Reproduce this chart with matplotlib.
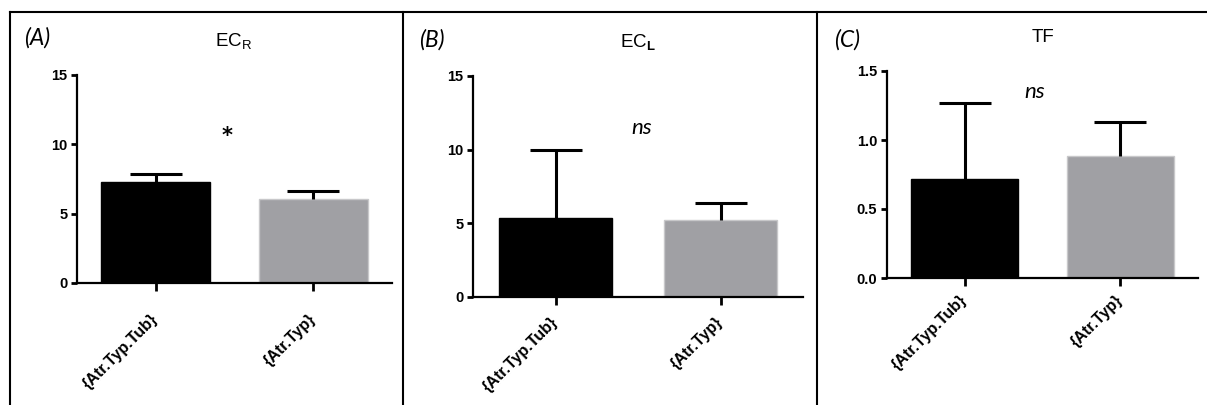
import matplotlib
matplotlib.use("Agg")
import matplotlib.pyplot as plt
from matplotlib.lines import Line2D
import numpy as np

plt.rcParams['font.family'] = ['Liberation Sans', 'DejaVu Sans']
plt.rcParams['mathtext.fontset'] = 'custom'
plt.rcParams['mathtext.rm'] = 'Liberation Sans'
plt.rcParams['mathtext.bf'] = 'Liberation Sans:bold'

# data
groups = ['{Atr.Typ.Tub}', '{Atr.Typ}']
ecr_mean = [7.25, 6.05]
ecr_sd = [0.60, 0.55]
ecl_mean = [5.38, 5.23]
ecl_sd = [4.57, 1.13]
tf_mean = [0.72, 0.885]
tf_sd = [0.545, 0.245]

bar_colors = ['#000000', '#a0a0a4']
edge_colors = ['#000000', '#c8c8ca']

W, H = 1207, 405
fig = plt.figure(figsize=(W / 100, H / 100), dpi=100)


def px(x0, y0, x1, y1):
    # pixel box -> figure fraction rect
    return [x0 / W, 1 - y1 / H, (x1 - x0) / W, (y1 - y0) / H]


panels = [
    dict(box=(77, 75, 392, 283), mean=ecr_mean, sd=ecr_sd, ylim=15, ticks=[0, 5, 10, 15],
         fmt='{:g}', letter='(A)', lpos=(24, 38), title=r'EC$_\mathregular{R}$', tpos=(234, 42),
         sig='*', spos=(0.45, 10.6), pad=18),
    dict(box=(473, 76, 803, 297), mean=ecl_mean, sd=ecl_sd, ylim=15, ticks=[0, 5, 10, 15],
         fmt='{:g}', letter='(B)', lpos=(419, 40), title=r'EC$_\mathbf{L}$', tpos=(638, 43),
         sig='ns', spos=(0.52, 11.5), pad=10),
    dict(box=(887, 71, 1198, 278), mean=tf_mean, sd=tf_sd, ylim=1.5, ticks=[0.0, 0.5, 1.0, 1.5],
         fmt='{:.1f}', letter='(C)', lpos=(834, 40), title='TF', tpos=(1043, 38),
         sig='ns', spos=(0.45, 1.35), pad=8),
]

for p in panels:
    ax = fig.add_axes(px(*p['box']))
    x = np.arange(len(groups))
    ax.bar(x, p['mean'], width=0.69, color=bar_colors, edgecolor=edge_colors,
           linewidth=1, zorder=2)
    eb = ax.errorbar(x, p['mean'], yerr=[np.zeros(len(x)), p['sd']], fmt='none',
                     ecolor='black', elinewidth=2.2, capsize=19, capthick=2.2, zorder=3)
    eb[1][0].set_visible(False)  # only the upper cap
    ax.set_xlim(-0.5, 1.5)
    ax.set_ylim(0, p['ylim'])
    ax.set_yticks(p['ticks'])
    ax.set_yticklabels([p['fmt'].format(t) for t in p['ticks']], fontweight='bold', fontsize=10.5)
    ax.set_xticks(x)
    ax.set_xticklabels(groups, rotation=45, ha='right', va='center',
                       rotation_mode='anchor', fontweight='bold', fontsize=11.5)
    ax.tick_params(axis='y', length=4, width=2, pad=3)
    ax.tick_params(axis='x', length=6, width=2, pad=p['pad'])
    for s in ['top', 'right']:
        ax.spines[s].set_visible(False)
    for s in ['left', 'bottom']:
        ax.spines[s].set_linewidth(1.6)
    ax.spines['left'].set_zorder(4)
    if p['sig'] == '*':
        sig_style = dict(fontsize=15, family='DejaVu Sans', fontweight='bold')
    else:
        sig_style = dict(fontsize=16, style='italic', family='Lato')
    ax.text(p['spos'][0], p['spos'][1], p['sig'], ha='center', va='center', **sig_style)

    fig.text(p['lpos'][0] / W, 1 - p['lpos'][1] / H, p['letter'], family='Lato',
             style='italic', fontsize=16.5, ha='left', va='center')
    fig.text(p['tpos'][0] / W, 1 - p['tpos'][1] / H, p['title'], fontsize=13.5,
             ha='center', va='center')

# table-like frame lines
def fline(x0, y0, x1, y1):
    fig.add_artist(Line2D([x0 / W, x1 / W], [1 - y0 / H, 1 - y1 / H], color='black',
                          linewidth=1.5, transform=fig.transFigure))

fline(9.5, 12, W, 12)
fline(9.5, 12, 9.5, H)
fline(403, 12, 403, H)
fline(816.5, 12, 816.5, H)

fig.savefig('out.png', dpi=100)
